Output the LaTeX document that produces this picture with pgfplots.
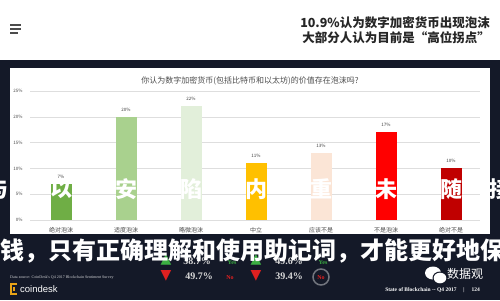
\documentclass[border=0pt]{standalone}
\usepackage{pgfplots}
\pgfplotsset{compat=1.18}
\usepackage{fontspec}
\setmainfont{Noto Sans CJK SC}
\newfontfamily\serifb{Liberation Serif}
\newfontfamily\sansl{Liberation Sans}
\newfontfamily\dejavu{DejaVu Sans}
\definecolor{navy}{RGB}{20,25,40}
\definecolor{c1}{HTML}{6FAE45}
\definecolor{c2}{HTML}{A9D18E}
\definecolor{c3}{HTML}{E2EFDA}
\definecolor{c4}{HTML}{FFC000}
\definecolor{c5}{HTML}{FBE5D6}
\definecolor{c6}{HTML}{FF0000}
\definecolor{c7}{HTML}{C00000}
\definecolor{gup}{HTML}{3CB043}
\definecolor{rdn}{HTML}{E02020}
\definecolor{gold}{HTML}{E8A317}
\begin{document}
\begin{tikzpicture}[x=1bp,y=1bp]
\path[use as bounding box] (0,0) rectangle (500,300);
\clip (0,0) rectangle (500,300);
\fill[navy] (0,0) rectangle (500,240);
\fill[white] (0,240) rectangle (500,300);
\fill[white] (10,66) rectangle (490,232);
% header
\draw[line width=1.3bp, black!70] (10,275)--(21,275) (10,271)--(21,271) (10,267)--(18,267);
\node[anchor=north east, align=right, inner sep=0, text=black!85,
      font=\fontsize{12.5bp}{15bp}\selectfont\bfseries] at (490,284)
  {10.9\%认为数字加密货币出现泡沫\\大部分人认为目前是“高位拐点”};
% panel title
\node[font=\fontsize{8bp}{9bp}\selectfont, text=black!70] at (250,219.5)
  {你认为数字加密货币(包括比特币和以太坊)的价值存在泡沫吗?};
\begin{axis}[at={(30bp,80bp)}, anchor=south west, scale only axis,
  width=450bp, height=129bp,
  xmin=-0.477, xmax=6.446, ymin=0, ymax=25,
  ytick={0,5,...,25},
  yticklabel={\pgfmathprintnumber{\tick}\%},
  xtick={0,...,6},
  xticklabels={绝对泡沫,适度泡沫,略微泡沫,中立,应该不是,不是泡沫,绝对不是},
  axis line style={draw=none}, major tick style={draw=none},
  ymajorgrids, grid style={black!13, line width=0.5bp},
  ybar, bar width=21bp,
  ticklabel style={text=black!70},
  yticklabel style={font=\fontsize{4.5bp}{5bp}\selectfont, xshift=-4bp},
  xticklabel style={font=\fontsize{6bp}{7bp}\selectfont},
  /pgf/number format/assume math mode=true,
  nodes near coords={\pgfmathprintnumber{\pgfplotspointmeta}\%},
  every node near coord/.append style={font=\fontsize{4.5bp}{5bp}\selectfont, text=black!75, yshift=2bp},
  clip=false]
\addplot[fill=c1, draw=none, bar shift=0pt] coordinates {(0,7)};
\addplot[fill=c2, draw=none, bar shift=0pt] coordinates {(1,20)};
\addplot[fill=c3, draw=none, bar shift=0pt] coordinates {(2,22)};
\addplot[fill=c4, draw=none, bar shift=0pt] coordinates {(3,11)};
\addplot[fill=c5, draw=none, bar shift=0pt] coordinates {(4,13)};
\addplot[fill=c6, draw=none, bar shift=0pt] coordinates {(5,17)};
\addplot[fill=c7, draw=none, bar shift=0pt] coordinates {(6,10)};
\end{axis}
% overlay line 1 (white brush text, visible on bars and margins)
\foreach \x/\c in {-2/与,61/以,126/安,191/陷,256/内,321/重,386/未,451/随,500/接}{
  \node[text=white, font=\fontsize{22bp}{22bp}\selectfont\bfseries, inner sep=0] at (\x,111) {\c};
}
% bottom stats
\node[text=gup, font=\dejavu\fontsize{14bp}{14bp}\selectfont, inner sep=0] at (166,40) {▲};
\node[text=gup, font=\dejavu\fontsize{14bp}{14bp}\selectfont, inner sep=0] at (256,40) {▲};
\node[text=rdn, font=\dejavu\fontsize{14bp}{14bp}\selectfont, inner sep=0] at (166,24) {▼};
\node[text=rdn, font=\dejavu\fontsize{14bp}{14bp}\selectfont, inner sep=0] at (256,24) {▼};
\node[text=white!85!black, font=\serifb\bfseries\fontsize{10bp}{10bp}\selectfont, inner sep=0] at (197,39) {38.7\%};
\node[text=white!85!black, font=\serifb\bfseries\fontsize{10bp}{10bp}\selectfont, inner sep=0] at (289,39) {49.6\%};
\node[text=white!85!black, font=\serifb\bfseries\fontsize{10bp}{10bp}\selectfont, inner sep=0] at (199,24) {49.7\%};
\node[text=white!85!black, font=\serifb\bfseries\fontsize{10bp}{10bp}\selectfont, inner sep=0] at (289,24) {39.4\%};
\node[text=gup, font=\serifb\bfseries\fontsize{6bp}{6bp}\selectfont, inner sep=0] at (232,37) {Yes};
\node[text=gup, font=\serifb\bfseries\fontsize{6bp}{6bp}\selectfont, inner sep=0] at (323,37) {Yes};
\node[text=rdn, font=\serifb\bfseries\fontsize{6bp}{6bp}\selectfont, inner sep=0] at (230,22) {No};
\draw[white!40!navy, line width=1.5bp] (321,23) circle (8);
\node[text=rdn, font=\serifb\bfseries\fontsize{6bp}{6bp}\selectfont, inner sep=0] at (321,22) {No};
% overlay line 2
\node[anchor=west, text=white, font=\fontsize{24bp}{24bp}\selectfont\bfseries, inner sep=0] at (0,49)
  {钱，只有正确理解和使用助记词，才能更好地保};
% footer
\node[anchor=west, text=white!80!navy, font=\serifb\fontsize{4bp}{4bp}\selectfont, inner sep=0] at (10,22)
  {Data source: CoinDesk's Q4 2017 Blockchain Sentiment Survey};
\draw[gold, line width=1.6bp] (17,16)--(11,16)--(11,6)--(17,6);
\draw[gold, line width=1.6bp] (14,13)--(14,9);
\node[anchor=west, text=white, font=\sansl\fontsize{9.5bp}{9.5bp}\selectfont, inner sep=0] at (20,11) {coindesk};
\fill[white] (433,27) ellipse (8 and 6.5);
\fill[navy] (440,22) ellipse (7.5 and 6.5);
\fill[white] (440,22) ellipse (6.3 and 5.3);
\node[anchor=west, text=white, font=\fontsize{12bp}{12bp}\selectfont, inner sep=0] at (447,26) {数据观};
\node[anchor=east, text=white, font=\serifb\bfseries\fontsize{5.5bp}{5.5bp}\selectfont, inner sep=0] at (480,10)
  {State of Blockchain -- Q4 2017 \quad{}|\quad{} 124};
\end{tikzpicture}
\end{document}
